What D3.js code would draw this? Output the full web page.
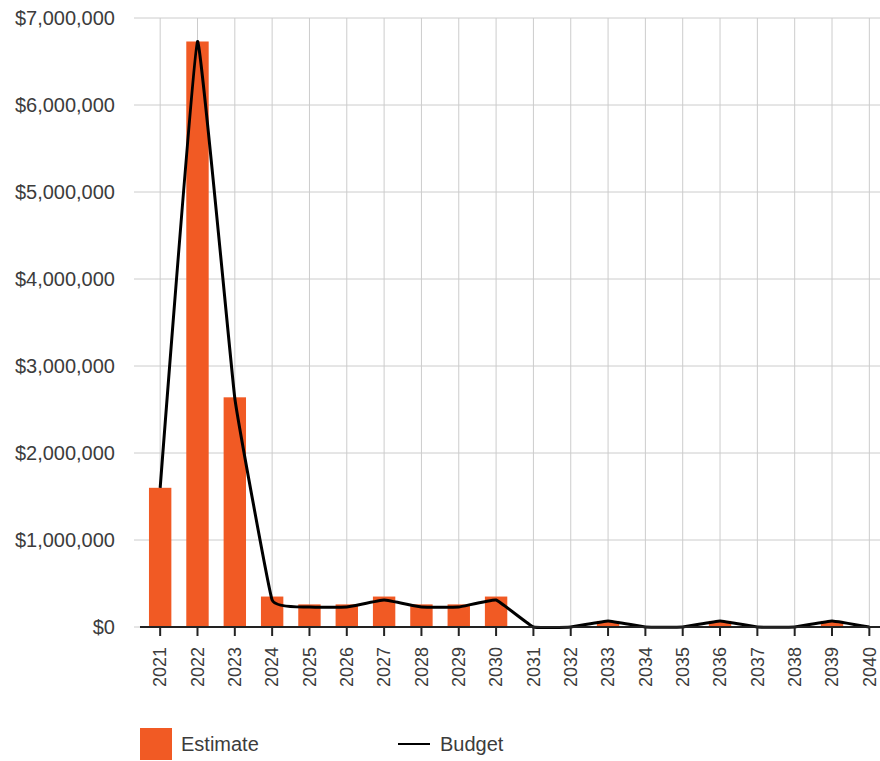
<!DOCTYPE html>
<html>
<head>
<meta charset="utf-8">
<script src="https://cdn.jsdelivr.net/npm/d3@7"></script>
<style>
  html, body { margin: 0; padding: 0; background: #fff; }
  svg { display: block; font-family: "Liberation Sans", Arial, sans-serif; }
</style>
</head>
<body>
<svg id="chart" width="880" height="761"></svg>
<script>
// Yearly cost figures
const years = ["2021","2022","2023","2024","2025","2026","2027","2028","2029","2030",
               "2031","2032","2033","2034","2035","2036","2037","2038","2039","2040"];
const estimate = [1600000, 6730000, 2640000, 350000, 260000, 260000, 350000, 260000, 260000, 350000,
                  0, 0, 70000, 0, 0, 70000, 0, 0, 70000, 0];
const budget   = [1600000, 6730000, 2630000, 310000, 230000, 230000, 310000, 230000, 230000, 310000,
                  0, 0, 70000, 0, 0, 70000, 0, 0, 70000, 0];
const yTicks = [0, 1000000, 2000000, 3000000, 4000000, 5000000, 6000000, 7000000];
const seriesNames = ["Estimate", "Budget"];

const svg = d3.select("#chart");
const plotTop = 18, plotBottom = 627, plotLeft = 141.5, plotRight = 888;

const x = d3.scaleBand().domain(years).range([plotLeft, plotRight])
  .paddingInner(0.4).paddingOuter(0.2);
const cx = d => x(d) + x.bandwidth() / 2;
const y = d3.scaleLinear().domain([0, 7000000]).range([plotBottom, plotTop]);

const fmt = v => "$" + d3.format(",")(v);

// horizontal grid
svg.append("g").selectAll("line").data(yTicks).join("line")
  .attr("x1", 134).attr("x2", 880)
  .attr("y1", d => y(d)).attr("y2", d => y(d))
  .attr("stroke", "#cccccc").attr("stroke-width", 1);

// vertical grid at each year
svg.append("g").selectAll("line").data(years).join("line")
  .attr("x1", d => cx(d)).attr("x2", d => cx(d))
  .attr("y1", plotTop).attr("y2", plotBottom)
  .attr("stroke", "#cccccc").attr("stroke-width", 1);

// y labels
svg.append("g").selectAll("text").data(yTicks).join("text")
  .attr("x", 115).attr("y", d => y(d)).attr("dy", "0.35em")
  .attr("text-anchor", "end").attr("font-size", 20).attr("fill", "#3c3c3c")
  .text(fmt);

// bars
svg.append("g").selectAll("rect").data(years).join("rect")
  .attr("x", d => x(d)).attr("width", x.bandwidth())
  .attr("y", (d, i) => y(estimate[i]))
  .attr("height", (d, i) => y(0) - y(estimate[i]))
  .attr("fill", "#f15a24");

// budget line, lightly smoothed
const line = d3.line()
  .x((d, i) => cx(years[i])).y(d => y(d))
  .curve(d3.curveCardinal.tension(0.75));
svg.append("path").datum(budget)
  .attr("d", line).attr("fill", "none")
  .attr("stroke", "#000").attr("stroke-width", 3).attr("stroke-linejoin", "round");

// x axis
const xAxis = svg.append("g").attr("transform", `translate(0,${plotBottom})`)
  .call(d3.axisBottom(x).tickSize(9).tickPadding(12).tickSizeOuter(0));
xAxis.select(".domain").attr("d", "M140,0H880").attr("stroke", "#222").attr("stroke-width", 2);
xAxis.selectAll(".tick line").attr("stroke", "#222").attr("stroke-width", 2);
xAxis.selectAll(".tick text")
  .attr("font-size", 18).attr("fill", "#3c3c3c").attr("font-family", "Liberation Sans, Arial, sans-serif")
  .attr("transform", "rotate(-90)")
  .attr("text-anchor", "end").attr("x", -20).attr("y", 0).attr("dy", "0.35em");

// legend
const lg = svg.append("g");
lg.append("rect").attr("x", 140).attr("y", 728).attr("width", 32).attr("height", 32).attr("fill", "#f15a24");
lg.append("text").attr("x", 181).attr("y", 751).attr("font-size", 20).attr("fill", "#3c3c3c").text(seriesNames[0]);
lg.append("line").attr("x1", 398).attr("x2", 430).attr("y1", 744).attr("y2", 744)
  .attr("stroke", "#000").attr("stroke-width", 2);
lg.append("text").attr("x", 440).attr("y", 751).attr("font-size", 20).attr("fill", "#3c3c3c").text(seriesNames[1]);
</script>
</body>
</html>
